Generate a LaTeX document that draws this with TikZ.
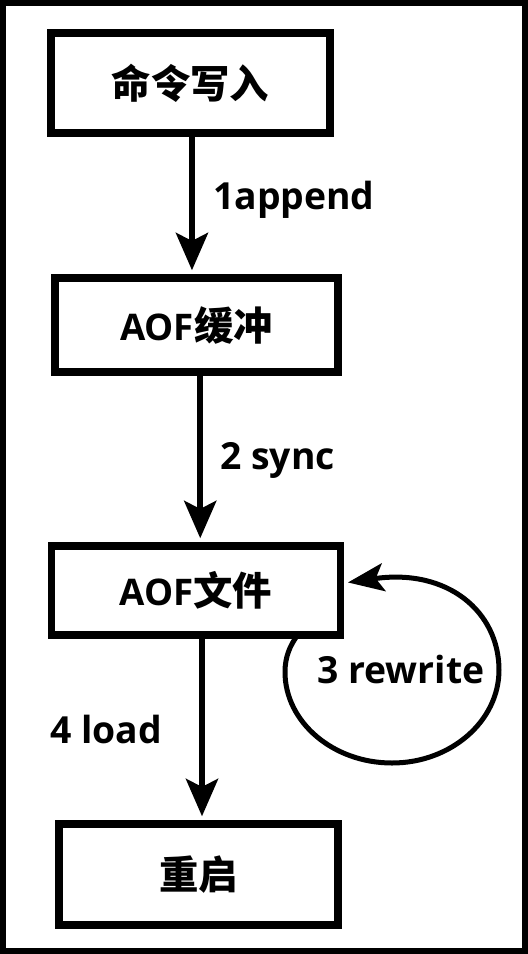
\documentclass[tikz,border=0pt]{standalone}
\usepackage{fontspec}
\setmainfont{Open Sans}
\newfontfamily\cjk{Noto Sans CJK SC}
\newcommand\zhtext[1]{{\cjk\bfseries\fontsize{29.5}{32}\selectfont #1}}
\usetikzlibrary{arrows.meta}
\tikzset{
  box/.style={draw, line width=5.6pt, inner sep=0pt, font=\fontsize{27.5}{30}\selectfont\bfseries},
  flow/.style={line width=4.5pt, -{Stealth[length=28pt,width=24pt,inset=6pt]}, shorten >=3pt},
  loopline/.style={line width=3.75pt, -{Stealth[length=27pt,width=21pt,inset=6pt]}, shorten >=3pt},
  lbl/.style={font=\fontsize{28}{30}\selectfont\bfseries, anchor=base west, inner sep=0pt},
}
\begin{document}
\begin{tikzpicture}[x=0.75pt,y=-0.75pt]
\useasboundingbox (0,0) rectangle (528,954);
\draw[line width=4.2pt] (2.8,2.8) rectangle (525.2,951.2);

\node[box, minimum width=209.25pt, minimum height=75pt] (b1) at (190.5,83) {\zhtext{命令写入}};
\node[box, minimum width=212.25pt, minimum height=70.5pt] (b2) at (196.5,325) {AOF\zhtext{缓冲}};
\node[box, minimum width=216.4pt, minimum height=66.75pt] (b3) at (196,590.5) {AOF\zhtext{文件}};
\node[box, minimum width=209.25pt, minimum height=75.75pt] (b4) at (198.5,874.5) {\zhtext{重启}};

\draw[flow] ([xshift=1.1pt]b1.south) -- ([xshift=1.1pt]b1.south |- b2.north);
\draw[flow] ([xshift=2.8pt]b2.south) -- ([xshift=2.8pt]b2.south |- b3.north);
\draw[flow] ([xshift=4.5pt]b3.south) -- ([xshift=4.5pt]b3.south |- b4.north);

\draw[loopline] ([xshift=-34.5pt,yshift=3pt]b3.south east)
  .. controls (290,645) and (285,657) .. (285,672)
  .. controls (285,722) and (333,763) .. (392,763)
  .. controls (451,763) and (499,721) .. (499,670)
  .. controls (499,612) and (448,568) .. ([yshift=5.6pt]b3.east);

\node[lbl] (l1) at (213,209) {1append};
\node[lbl] (l2) at (220,469) {2 sync};
\node[lbl] (l3) at (317,683) {3 rewrite};
\node[lbl] (l4) at (50,743) {4 load};
\end{tikzpicture}
\end{document}
